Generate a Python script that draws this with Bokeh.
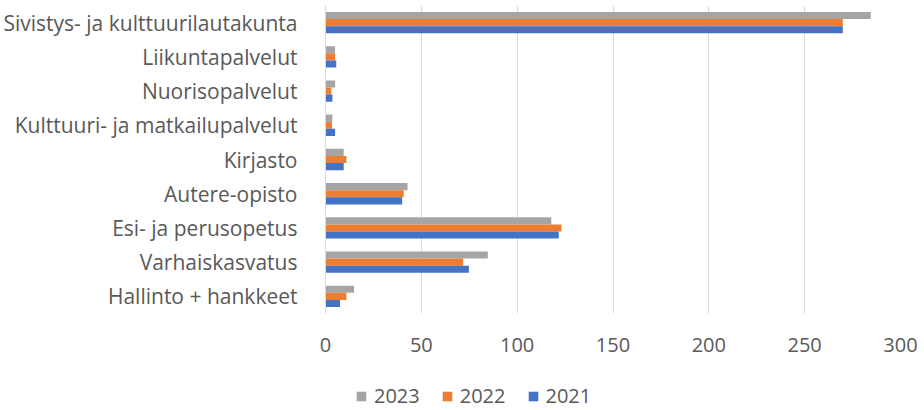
from bokeh.plotting import figure
from bokeh.layouts import column
from bokeh.models import FactorRange, Range1d, FixedTicker, Legend, LegendItem, ColumnDataSource
from bokeh.transform import dodge
from bokeh.embed import file_html
from bokeh.resources import INLINE

categories = ["Hallinto + hankkeet", "Varhaiskasvatus", "Esi- ja perusopetus", "Autere-opisto",
              "Kirjasto", "Kulttuuri- ja matkailupalvelut", "Nuorisopalvelut", "Liikuntapalvelut",
              "Sivistys- ja kulttuurilautakunta"]
v2023 = [14.9, 84.7, 117.8, 42.8, 9.5, 3.6, 5.0, 5.0, 284.5]
v2022 = [10.9, 71.8, 123.1, 40.8, 10.9, 3.4, 3.0, 5.0, 269.9]
v2021 = [7.6, 74.8, 121.7, 40.0, 9.5, 5.0, 3.6, 5.6, 269.9]
x_ticks = [0, 50, 100, 150, 200, 250, 300]
series = ["2023", "2022", "2021"]
colors = ["#A5A5A5", "#ED7D31", "#4472C4"]

FONT = "Open Sans"
TXT = "#595959"

src = ColumnDataSource(dict(cat=categories, v2023=v2023, v2022=v2022, v2021=v2021))

p = figure(width=920, height=360,
           y_range=FactorRange(factors=categories),
           x_range=Range1d(0, 300), output_backend="svg", toolbar_location=None,
           min_border_left=325, min_border_right=20, min_border_top=5, min_border_bottom=47)
p.outline_line_color = None
p.background_fill_color = "white"

bw = 0.208
p.hbar(y=dodge("cat", bw, range=p.y_range), right="v2023", height=bw, source=src,
       color=colors[0], line_color=None)
p.hbar(y=dodge("cat", 0, range=p.y_range), right="v2022", height=bw, source=src,
       color=colors[1], line_color=None)
p.hbar(y=dodge("cat", -bw, range=p.y_range), right="v2021", height=bw, source=src,
       color=colors[2], line_color=None)

p.xaxis.ticker = FixedTicker(ticks=x_ticks)
p.xaxis.axis_line_color = None
p.xaxis.major_tick_line_color = None
p.xaxis.minor_tick_line_color = None
p.xaxis.major_label_standoff = 18
p.xaxis.major_label_text_font = FONT
p.xaxis.major_label_text_font_size = "20px"
p.xaxis.major_label_text_color = TXT

p.yaxis.axis_line_color = "#D9D9D9"
p.yaxis.major_tick_line_color = None
p.yaxis.minor_tick_line_color = None
p.yaxis.major_label_standoff = 22
p.yaxis.major_label_text_font = FONT
p.yaxis.major_label_text_font_size = "21px"
p.yaxis.major_label_text_color = TXT

p.xgrid.grid_line_color = "#D9D9D9"
p.ygrid.grid_line_color = None

# legend strip below the chart (zero-height bars only carry the legend swatches)
lg = figure(width=920, height=49, output_backend="svg", toolbar_location=None,
            y_range=FactorRange(factors=categories), x_range=Range1d(0, 300),
            x_axis_location=None, y_axis_location=None,
            min_border_left=0, min_border_right=0, min_border_top=0, min_border_bottom=0)
lg.outline_line_color = None
lg.xgrid.grid_line_color = None
lg.ygrid.grid_line_color = None
items = []
for name, c in zip(series, colors):
    r = lg.hbar(y="cat", right="v" + name, height=0, source=src, fill_color=c, line_color=None)
    items.append(LegendItem(label=name, renderers=[r]))

legend = Legend(items=items, orientation="horizontal", location=(30, 0),
                glyph_width=12, glyph_height=12, label_standoff=7, spacing=21,
                padding=0, margin=0, border_line_color=None, background_fill_alpha=0,
                label_text_font=FONT, label_text_font_size="20px", label_text_color=TXT,
                label_height=20)
lg.add_layout(legend, "center")

layout = column(p, lg, spacing=0)
open("out.html", "w").write(file_html(layout, INLINE))
